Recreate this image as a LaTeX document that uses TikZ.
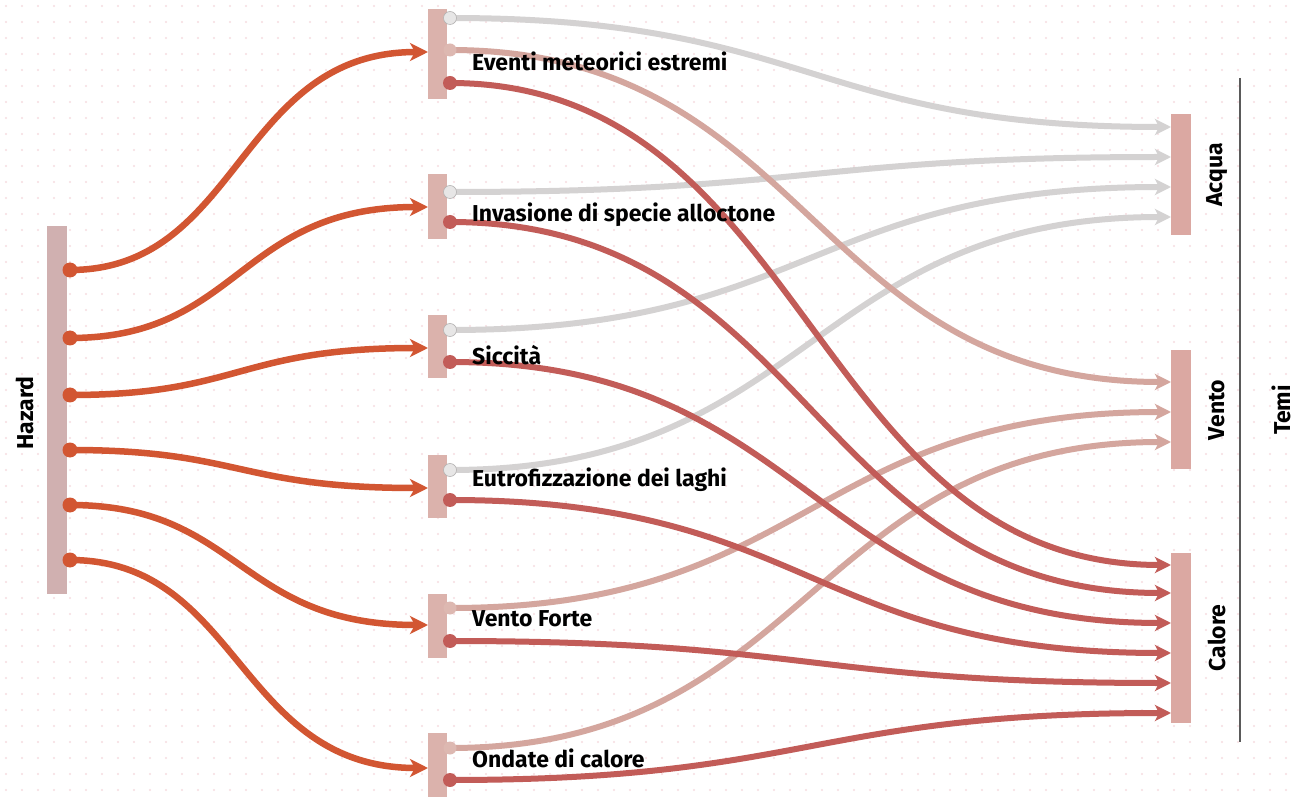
\documentclass[tikz,border=0pt]{standalone}
\usepackage{fontspec}
\setmainfont{Fira Sans}
\usetikzlibrary{arrows.meta}

\definecolor{hazline}{RGB}{210,86,50}
\definecolor{redline}{RGB}{194,92,88}
\definecolor{grayline}{RGB}{212,210,210}
\definecolor{pinkline}{RGB}{212,166,158}
\definecolor{barleft}{RGB}{208,176,176}
\definecolor{barmid}{RGB}{219,178,172}
\definecolor{barright}{RGB}{219,168,162}
\definecolor{griddot}{RGB}{246,220,224}
\definecolor{rule}{RGB}{90,90,90}

\tikzset{
  barbox/.style={draw=none, fill=#1, minimum width=20pt, inner sep=0pt},
  lab/.style={font=\bfseries\fontsize{23}{23}\selectfont, text=black, inner sep=0pt},
  vlab/.style={lab, rotate=90},
  hazflow/.style={draw=hazline, line width=6.5pt,
    -{Stealth[length=18pt,width=18pt,inset=5pt]}},
  outflow/.style={draw=#1, line width=6pt,
    -{Stealth[length=16pt,width=16pt,inset=4pt]}},
}

\begin{document}
\begin{tikzpicture}[x=1pt,y=-1pt]
\useasboundingbox (0,0) rectangle (1296,799);
\fill[white] (0,0) rectangle (1296,799);

% faint dotted background
\foreach \i in {0,...,80}
  \foreach \j in {0,...,49}
    \fill[griddot] (\i*16+6,\j*16+6) circle (1.1);

% bars
\node[barbox=barleft, minimum height=367pt] (hz) at (57,410) {};
\node[barbox=barmid, minimum width=19pt, minimum height=90pt] (m1) at (437.5,54) {};
\node[barbox=barmid, minimum width=19pt, minimum height=65pt] (m2) at (437.5,206.5) {};
\node[barbox=barmid, minimum width=19pt, minimum height=63pt] (m3) at (437.5,346.5) {};
\node[barbox=barmid, minimum width=19pt, minimum height=63pt] (m4) at (437.5,486.5) {};
\node[barbox=barmid, minimum width=19pt, minimum height=64pt] (m5) at (437.5,626) {};
\node[barbox=barmid, minimum width=19pt, minimum height=64pt] (m6) at (437.5,765) {};
\node[barbox=barright, minimum height=121pt] (acq) at (1181,174.5) {};
\node[barbox=barright, minimum height=119pt] (ven) at (1181,409.5) {};
\node[barbox=barright, minimum height=170pt] (cal) at (1181,638) {};

% bracket rule for the themes
\coordinate (rtop) at (1240,78);
\coordinate (rbot) at (1240,742);
\draw[rule, line width=1.6pt] (rtop) -- (rbot);

% hazard ports
\foreach \k/\y in {1/270,2/338,3/395,4/450,5/505,6/560}
  \coordinate (h\k) at (70,\y);
% middle inputs
\foreach \k/\y in {1/52,2/207,3/348,4/488,5/625,6/768}
  \coordinate (i\k) at (428,\y);
% middle outputs: light (a) and red (b)
\foreach \k/\y in {1/18,2/192,3/330,4/470,5/608,6/748}
  \coordinate (a\k) at (450,\y);
\coordinate (p1) at (450,50);
\foreach \k/\y in {1/83,2/222,3/362,4/500,5/641,6/780}
  \coordinate (b\k) at (450,\y);
% theme inputs
\foreach \k/\y in {1/127,2/157,3/187,4/217}
  \coordinate (qa\k) at (1171,\y);
\foreach \k/\y in {1/382,5/412,6/442}
  \coordinate (qv\k) at (1171,\y);
\foreach \k/\y in {1/565,2/593,3/623,4/653,5/683,6/713}
  \coordinate (qc\k) at (1171,\y);

% light flows towards Acqua
\foreach \k in {1,2,3,4}{
  \draw[outflow=grayline] (a\k) .. controls +(360,0) and +(-360,0) .. (qa\k);
  \fill[grayline!55] (a\k) circle (6.5);
  \draw[grayline!85!black, line width=0.6pt] (a\k) circle (6.5);
}
% light flows towards Vento
\draw[outflow=pinkline] (p1) .. controls +(360,0) and +(-360,0) .. (qv1);
\draw[outflow=pinkline] (a5) .. controls +(360,0) and +(-360,0) .. (qv5);
\draw[outflow=pinkline] (a6) .. controls +(360,0) and +(-360,0) .. (qv6);
\foreach \c in {p1,a5,a6}
  \fill[pinkline!80] (\c) circle (6.5);

% red flows towards Calore
\foreach \k in {1,...,6}{
  \draw[outflow=redline] (b\k) .. controls +(360,0) and +(-360,0) .. (qc\k);
  \fill[redline] (b\k) circle (7);
}

% hazard flows
\foreach \k in {1,...,6}{
  \draw[hazflow] (h\k) .. controls +(170,0) and +(-190,0) .. (i\k);
  \fill[hazline] (h\k) circle (7.5);
}

% labels
\node[vlab] (lhz) at (25,413) {Hazard};
\node[lab, anchor=west] (l1) at (472,61) {Eventi meteorici estremi};
\node[lab, anchor=west] (l2) at (472,215) {Invasione di specie alloctone};
\node[lab, anchor=west] (l3) at (472,355) {Siccità};
\node[lab, anchor=west] (l4) at (472,480) {Eutrofizzazione dei laghi};
\node[lab, anchor=west] (l5) at (472,619) {Vento Forte};
\node[lab, anchor=west] (l6) at (472,758) {Ondate di calore};
\node[vlab] (lacq) at (1217,175) {Acqua};
\node[vlab] (lven) at (1217,410) {Vento};
\node[vlab] (lcal) at (1217,638) {Calore};
\node[vlab] (ltemi) at (1281,410) {Temi};
\end{tikzpicture}
\end{document}
